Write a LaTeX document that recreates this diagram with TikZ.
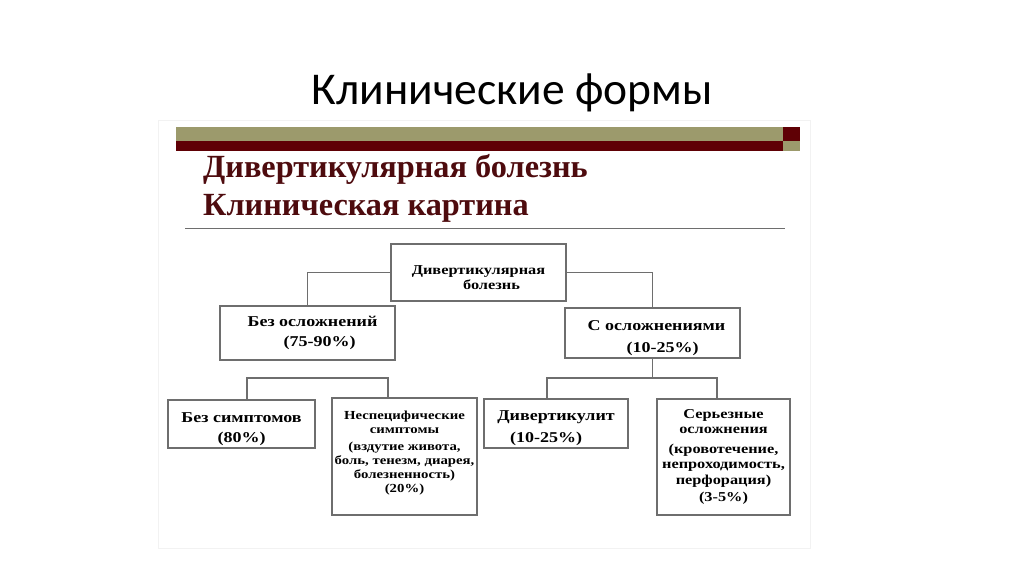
\documentclass[tikz,border=0pt]{standalone}
\usepackage{fontspec}
\setmainfont{Liberation Serif}
\newfontfamily\titlefont{Carlito}
\newfontfamily\boxfont[FakeStretch=1.2]{Liberation Serif}
\usetikzlibrary{positioning, shadows}
\definecolor{olivebar}{HTML}{9C9A6C}
\definecolor{winebar}{HTML}{5F0005}
\definecolor{headred}{HTML}{4E0B0E}
\definecolor{linegray}{HTML}{6E6E6E}

\begin{document}
\begin{tikzpicture}[x=1pt, y=-1pt]
\tikzstyle{box}=[rectangle, draw=linegray, line width=1.1pt, fill=white, align=center, inner sep=0pt, drop shadow={shadow xshift=1.3pt, shadow yshift=1.3pt, fill=black!60, opacity=1}, font=\boxfont\bfseries\fontsize{15}{20}\selectfont]
\tikzstyle{small}=[font=\boxfont\bfseries\fontsize{12.3}{14}\selectfont]
\tikzstyle{smallish}=[font=\boxfont\bfseries\fontsize{13.6}{15.5}\selectfont]
\tikzstyle{connect}=[draw=linegray, line width=1.3pt]
\tikzstyle{head}=[anchor=base west, inner sep=0pt, text=headred, font=\bfseries\fontsize{32.3}{32}\selectfont]
    \useasboundingbox (0,0) rectangle (1024,576);
    \fill[white] (0,0) rectangle (1024,576);
    \node[anchor=base, inner sep=0pt, font=\titlefont\fontsize{45.5}{46}\selectfont] (title) at (512,104) {Клинические формы};

    \draw[black!5] (158,120) rectangle (810,548);
    \fill[olivebar] (176,127) rectangle (783,141);
    \fill[winebar]  (176,141) rectangle (783,151);
    \fill[winebar]  (783,127) rectangle (800,141);
    \fill[olivebar] (783,141) rectangle (800,151);
    \node[head] (head1) at (203,177) {Дивертикулярная болезнь};
    \node[head] (head2) at (203,215) {Клиническая картина};
    \draw[linegray, line width=1pt] (185,228) -- (785,228);

    \node[box, smallish, minimum width=175pt, minimum height=57pt] (root) at (478.5,272.5)
        {\rule{0pt}{19pt}Дивертикулярная\\\hspace*{26pt}болезнь};
    \node[box, minimum width=175pt, minimum height=54pt] (noc) at (307.5,333)
        {\hspace*{10pt}Без осложнений\\\hspace*{24pt}(75-90\%)};
    \node[box, minimum width=175pt, minimum height=50pt] (withc) at (652.5,333)
        {\rule{0pt}{20pt}\hspace*{8pt}С осложнениями\\[2pt]\hspace*{20pt}(10-25\%)};
    \node[box, minimum width=147pt, minimum height=48pt] (nosym) at (241.5,424)
        {\rule{0pt}{20pt}Без симптомов\\(80\%)};
    \node[box, small, minimum width=145pt, minimum height=117pt] (nonspec) at (404.5,456.5)
        {Неспецифические\\симптомы\\[3pt](вздутие живота,\\боль, тенезм, диарея,\\болезненность)\\(20\%)\rule[-10.5pt]{0pt}{0pt}};
    \node[box, minimum width=144pt, minimum height=49pt] (divert) at (556,423.5)
        {\rule{0pt}{19pt}Дивертикулит\\[2pt]\hspace*{-20pt}(10-25\%)};
    \node[box, smallish, minimum width=133pt, minimum height=116pt] (serious) at (723.5,457)
        {Серьезные\\осложнения\\[4pt](кровотечение,\\непроходимость,\\перфорация)\\[2pt](3-5\%)};

    \coordinate (lbar) at (247,378);
    \coordinate (rbar) at (652.5,378);
    \draw[connect] (root.west) -| (noc.north);
    \draw[connect] (root.east) -| (withc.north);
    \draw[connect] ([xshift=5.5pt]nosym.north) |- (lbar) -| ([xshift=-16.5pt]nonspec.north);
    \draw[connect] (withc.south) -- (rbar);
    \draw[connect] ([xshift=-9pt]divert.north) |- (rbar) -| ([xshift=-6.5pt]serious.north);
\end{tikzpicture}
\end{document}
